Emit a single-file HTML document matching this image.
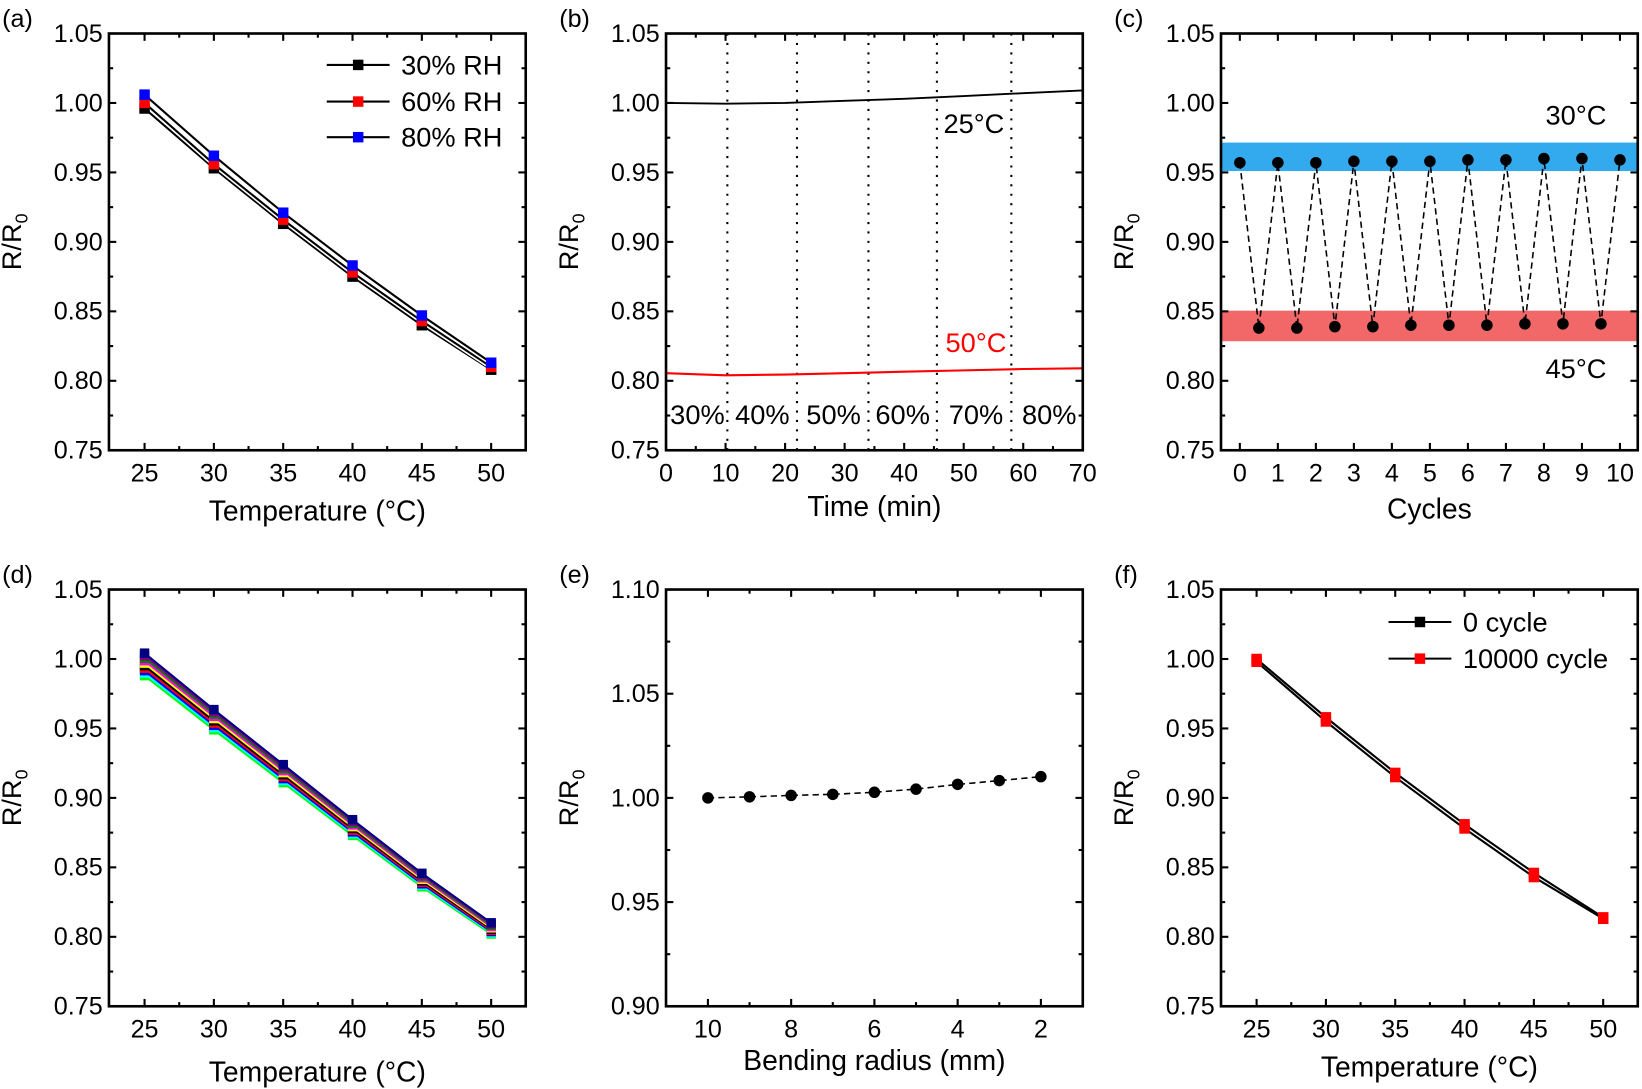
<!DOCTYPE html>
<html><head><meta charset="utf-8"><style>
html,body{margin:0;padding:0;background:#fff;}
svg{display:block;}
text{font-family:"Liberation Sans",Arial,sans-serif;}
</style></head><body>
<svg id="s" width="1642" height="1089" viewBox="0 0 1568 1040" xmlns="http://www.w3.org/2000/svg"></svg>
<script>
(function(){
const S=document.getElementById('s');let out='';
function add(t){out+=t;}
function line(x1,y1,x2,y2,st){add(`<line x1="${x1}" y1="${y1}" x2="${x2}" y2="${y2}" ${st||'stroke="#000" stroke-width="2"'}/>`);}
function txt(x,y,t,sz,anc,extra){add(`<text x="${x}" y="${y}" font-size="${sz}" text-anchor="${anc||'middle'}" ${extra||''}>${t}</text>`);}
function panel(p){
 const B=p.B,T=p.T;
 p.X=v=>p.x0px+(v-p.x0)*(p.x1px-p.x0px)/(p.x1-p.x0);
 p.Y=v=>B-(v-p.y0)*(B-T)/(p.y1-p.y0);
 return p;
}
function frame(p){
 const L=p.L,R=p.R,T=p.T,B=p.B,X=p.X,Y=p.Y;
 add(`<rect x="${L}" y="${T}" width="${R-L}" height="${B-T}" fill="none" stroke="#000" stroke-width="2.5"/>`);
 for(let i=0;i<p.yt.length;i++){const v=p.yt[i],y=Y(v);
  line(L,y,L+7,y);line(R,y,R-7,y);
  txt(L-6,y+8,v.toFixed(2),24,'end');
  if(i<p.yt.length-1){const ym=(y+Y(p.yt[i+1]))/2;line(L,ym,L+4,ym);line(R,ym,R-4,ym);}
 }
 for(let i=0;i<p.xt.length;i++){const v=p.xt[i],x=X(v);
  line(x,B,x,B-7);line(x,T,x,T+7);
  txt(x,B+30,v,24,'middle');
  if(p.xminor!==false && i<p.xt.length-1){const xm=(x+X(p.xt[i+1]))/2;line(xm,B,xm,B-4);line(xm,T,xm,T+4);}
 }
 const mx=(L+R)/2, my=(T+B)/2, lx=L-84;
 add(`<text x="${lx}" y="${my}" font-size="26" text-anchor="middle" transform="rotate(-90 ${lx} ${my})">R/R<tspan font-size="17" dy="6">0</tspan></text>`);
 txt(mx,B+p.xlo,p.xl,27,'middle');
 txt(L-102,T-6,p.tag,24,'start');
}
function poly(p,xs,ys,col,w,dash){let d='';for(let i=0;i<xs.length;i++)d+=(i?'L':'M')+p.X(xs[i]).toFixed(1)+','+p.Y(ys[i]).toFixed(1);
 add(`<path d="${d}" fill="none" stroke="${col}" stroke-width="${w}" ${dash?`stroke-dasharray="${dash}"`:''}/>`);}
function sq(x,y,c,s){s=s||10;add(`<rect x="${x-s/2}" y="${y-s/2}" width="${s}" height="${s}" fill="${c}"/>`);}
function dot(x,y){add(`<circle cx="${x}" cy="${y}" r="5.5" fill="#000"/>`);}
const T5=[25,30,35,40,45,50], yt=[0.75,0.8,0.85,0.9,0.95,1.0,1.05];
// (a)
const pa=panel({L:104,R:502,T:32,B:430,x0:25,x1:50,x0px:138,x1px:469,y0:0.75,y1:1.05});
pa.yt=yt;pa.xt=T5;pa.xl='Temperature (°C)';pa.xlo=67;pa.tag='(a)';
const da=[[0.996,0.953,0.913,0.875,0.840,0.808,'#000'],[1.0,0.956,0.916,0.878,0.843,0.810,'#f00'],[1.006,0.962,0.921,0.883,0.847,0.813,'#00f']];
for(const d of da){poly(pa,T5,d.slice(0,6),'#fff',5);poly(pa,T5,d.slice(0,6),'#000',2);}
for(const d of da)T5.forEach((t,i)=>sq(pa.X(t),pa.Y(d[i]),d[6]));
frame(pa);
[['30% RH','#000',62],['60% RH','#f00',97],['80% RH','#00f',131]].forEach(([l,c,y])=>{line(312,y,372,y);sq(342,y,c);txt(383,y+9,l,26,'start');});
// (b)
const pb=panel({L:636,R:1034,T:32,B:430,x0:0,x1:70,x0px:636,x1px:1034,y0:0.75,y1:1.05});
pb.yt=yt;pb.xt=[0,10,20,30,40,50,60,70];pb.xl='Time (min)';pb.xlo=63;pb.tag='(b)';
[10.3,22,34,45.5,58].forEach(v=>line(pb.X(v),pb.T,pb.X(v),pb.B,'stroke="#000" stroke-width="2" stroke-dasharray="2,7"'));
poly(pb,[0,10,20,30,40,50,60,70],[1.0,0.9995,1.0,1.0015,1.003,1.005,1.007,1.009],'#000',1.8);
poly(pb,[0,10,20,30,40,50,60,70],[0.8055,0.804,0.8045,0.8055,0.8065,0.8075,0.8085,0.809],'#f00',2);
frame(pb);
txt(930,127,'25°C',26,'middle');txt(932,336,'50°C',26,'middle','fill="#f00"');
[['30%',666],['40%',728],['50%',796],['60%',862],['70%',932],['80%',1002]].forEach(([l,x])=>txt(x,405,l,26,'middle'));
// (c)
const pc=panel({L:1166,R:1564,T:32,B:430,x0:0,x1:10,x0px:1184,x1px:1547,y0:0.75,y1:1.05});
pc.yt=yt;pc.xt=[0,1,2,3,4,5,6,7,8,9,10];pc.xl='Cycles';pc.xlo=65;pc.tag='(c)';pc.xminor=false;
add(`<rect x="${pc.L}" y="${pc.Y(0.9715)}" width="${pc.R-pc.L}" height="${pc.Y(0.951)-pc.Y(0.9715)}" fill="#33aaee"/>`);
add(`<rect x="${pc.L}" y="${pc.Y(0.8505)}" width="${pc.R-pc.L}" height="${pc.Y(0.8285)-pc.Y(0.8505)}" fill="#f26868"/>`);
const zx=[],zy=[];const hiV=[0.957,0.957,0.957,0.958,0.958,0.958,0.959,0.959,0.960,0.960,0.959],loV=[0.838,0.838,0.839,0.839,0.840,0.840,0.840,0.841,0.841,0.841];
for(let i=0;i<=10;i++){zx.push(i);zy.push(hiV[i]);if(i<10){zx.push(i+0.5);zy.push(loV[i]);}}
poly(pc,zx,zy,'#000',1.5,'6,4');
zx.forEach((x,i)=>dot(pc.X(x),pc.Y(zy[i])));
frame(pc);
txt(1505,119,'30°C',26,'middle');txt(1505,361,'45°C',26,'middle');
// (d)
const pd=panel({L:104,R:502,T:563,B:961,x0:25,x1:50,x0px:138,x1px:469,y0:0.75,y1:1.05});
pd.yt=yt;pd.xt=T5;pd.xl='Temperature (°C)';pd.xlo=72;pd.tag='(d)';
const cols=['#0f0','#0ff','#00f','#f00','#000','#ff0','#f0f','#008000','#800080','#000080'];
const base=[0.988,0.949,0.911,0.873,0.836,0.802];
cols.forEach((col,k)=>{const off=k*0.0018;const ys=base.map((v,i)=>v+off*(1-i*0.1));poly(pd,T5,ys,col,2);T5.forEach((t,i)=>sq(pd.X(t),pd.Y(ys[i]),col,9));});
frame(pd);
// (e)
const pe=panel({L:636,R:1034,T:563,B:961,x0:10,x1:2,x0px:676,x1px:994,y0:0.9,y1:1.1});
pe.yt=[0.9,0.95,1.0,1.05,1.1];pe.xt=[10,8,6,4,2];pe.xl='Bending radius (mm)';pe.xlo=61;pe.tag='(e)';
const ex=[10,9,8,7,6,5,4,3,2],ey=[1.0,1.0005,1.0012,1.0017,1.0027,1.0042,1.0065,1.0083,1.0102];
poly(pe,ex,ey,'#000',1.5,'6,4');ex.forEach((x,i)=>dot(pe.X(x),pe.Y(ey[i])));
frame(pe);
// (f)
const pf=panel({L:1166,R:1564,T:563,B:961,x0:25,x1:50,x0px:1200,x1px:1531,y0:0.75,y1:1.05});
pf.yt=yt;pf.xt=T5;pf.xl='Temperature (°C)';pf.xlo=67;pf.tag='(f)';
const f1=[0.998,0.955,0.915,0.878,0.843,0.813],f2=[1.0,0.958,0.918,0.881,0.846,0.814];
poly(pf,T5,f1,'#000',2);poly(pf,T5,f2,'#000',2);
T5.forEach((t,i)=>{sq(pf.X(t),pf.Y(f1[i]),'#f00');sq(pf.X(t),pf.Y(f2[i]),'#f00');});
frame(pf);
[['0 cycle','#000',594],['10000 cycle','#f00',629]].forEach(([l,col,y])=>{line(1326,y,1386,y);sq(1356,y,col);txt(1397,y+9,l,26,'start');});
S.innerHTML=out;
})();
</script>
</body></html>
